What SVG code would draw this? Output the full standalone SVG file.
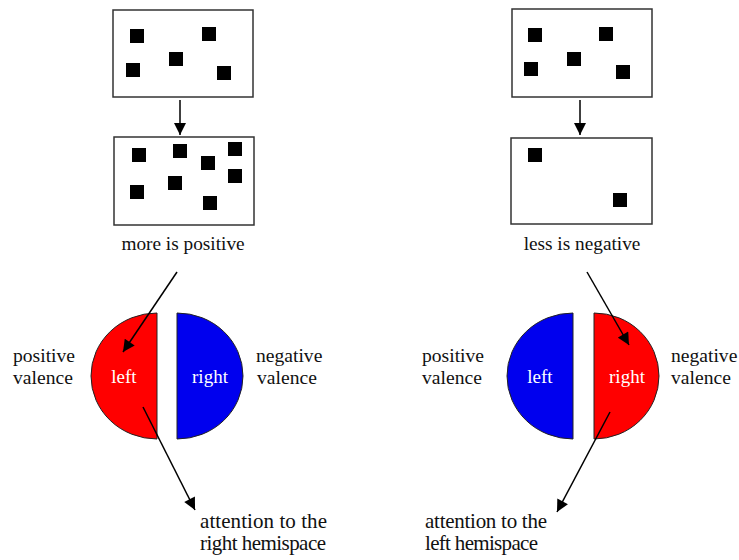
<svg xmlns="http://www.w3.org/2000/svg" width="739" height="560" viewBox="0 0 739 560">
<defs>
<marker id="ah" viewBox="0 0 10 10" refX="10" refY="5" markerWidth="13" markerHeight="12" markerUnits="userSpaceOnUse" orient="auto">
<path d="M0,0 L10,5 L0,10 Z" fill="#000"/>
</marker>
</defs>
<style>
.box{fill:#fff;stroke:#333;stroke-width:1.5}
.dot{fill:#000}
.lbl{font-family:"Liberation Serif","Times New Roman",serif;font-size:19.3px;fill:#111}
.val{font-size:19.6px}
.att{font-size:21px}
.in{font-family:"Liberation Serif","Times New Roman",serif;font-size:19px;fill:#fff;text-anchor:middle}
.red{fill:#ff0000;stroke:#222;stroke-width:1}
.blue{fill:#0000ee;stroke:#222;stroke-width:1}
.conn{stroke:#000;stroke-width:1.5;fill:none;marker-end:url(#ah)}
</style>
<rect width="739" height="560" fill="#fff"/>

<g id="box-l1">
<rect class="box" x="113" y="10" width="140" height="87"/>
<rect class="dot" x="130" y="29" width="14" height="14"/>
<rect class="dot" x="202" y="27" width="14" height="14"/>
<rect class="dot" x="169" y="52" width="14" height="14"/>
<rect class="dot" x="126" y="63" width="14" height="14"/>
<rect class="dot" x="217" y="66" width="14" height="14"/>
</g>
<g id="box-l2">
<rect class="box" x="114" y="137" width="140" height="88"/>
<rect class="dot" x="132" y="148" width="14" height="14"/>
<rect class="dot" x="173" y="144" width="14" height="14"/>
<rect class="dot" x="228" y="142" width="14" height="14"/>
<rect class="dot" x="201" y="156" width="14" height="14"/>
<rect class="dot" x="228" y="169" width="14" height="14"/>
<rect class="dot" x="168" y="176" width="14" height="14"/>
<rect class="dot" x="130" y="185" width="14" height="14"/>
<rect class="dot" x="203" y="196" width="14" height="14"/>
<text class="lbl" x="183" y="250" text-anchor="middle">more is positive</text>
</g>
<g id="box-r1">
<rect class="box" x="512" y="9" width="140" height="88"/>
<rect class="dot" x="528" y="28" width="14" height="14"/>
<rect class="dot" x="599" y="27" width="14" height="14"/>
<rect class="dot" x="567" y="52" width="14" height="14"/>
<rect class="dot" x="524" y="62" width="14" height="14"/>
<rect class="dot" x="616" y="65" width="14" height="14"/>
</g>
<g id="box-r2">
<rect class="box" x="511" y="138" width="141" height="86"/>
<rect class="dot" x="528" y="148" width="14" height="14"/>
<rect class="dot" x="613" y="193" width="14" height="14"/>
<text class="lbl" x="582" y="250" text-anchor="middle">less is negative</text>
</g>

<g id="brain-l">
<path class="red" d="M157,313 A66,63 0 0,0 157,439 Z"/>
<path class="blue" d="M177,313 A66,63 0 0,1 177,439 Z"/>
<text class="in" x="124" y="383">left</text>
<text class="in" x="210" y="383">right</text>
<text class="lbl val" x="13" y="362">positive</text>
<text class="lbl val" x="13" y="384">valence</text>
<text class="lbl val" x="256" y="362">negative</text>
<text class="lbl val" x="257" y="384">valence</text>
</g>
<g id="brain-r">
<path class="blue" d="M573,313 A66,63 0 0,0 573,439 Z"/>
<path class="red" d="M594,313 A65,63 0 0,1 594,439 Z"/>
<text class="in" x="540" y="383">left</text>
<text class="in" x="627" y="383">right</text>
<text class="lbl val" x="422" y="362">positive</text>
<text class="lbl val" x="422" y="384">valence</text>
<text class="lbl val" x="671" y="362">negative</text>
<text class="lbl val" x="671" y="384">valence</text>
</g>
<g id="out-l">
<text class="lbl att" x="200" y="528" textLength="127">attention to the</text>
<text class="lbl att" x="200" y="550" textLength="126">right hemispace</text>
</g>
<g id="out-r">
<text class="lbl att" x="425" y="528" textLength="122">attention to the</text>
<text class="lbl att" x="425" y="550" textLength="113">left hemispace</text>
</g>

<g id="connectors">
<line class="conn" x1="180" y1="100" x2="180" y2="135"/>
<line class="conn" x1="580" y1="100" x2="580" y2="135"/>
<line class="conn" x1="177" y1="272" x2="123" y2="352"/>
<line class="conn" x1="587" y1="272" x2="629" y2="345"/>
<line class="conn" x1="143" y1="407" x2="195" y2="510"/>
<line class="conn" x1="610" y1="412" x2="557" y2="512"/>
</g>
</svg>
